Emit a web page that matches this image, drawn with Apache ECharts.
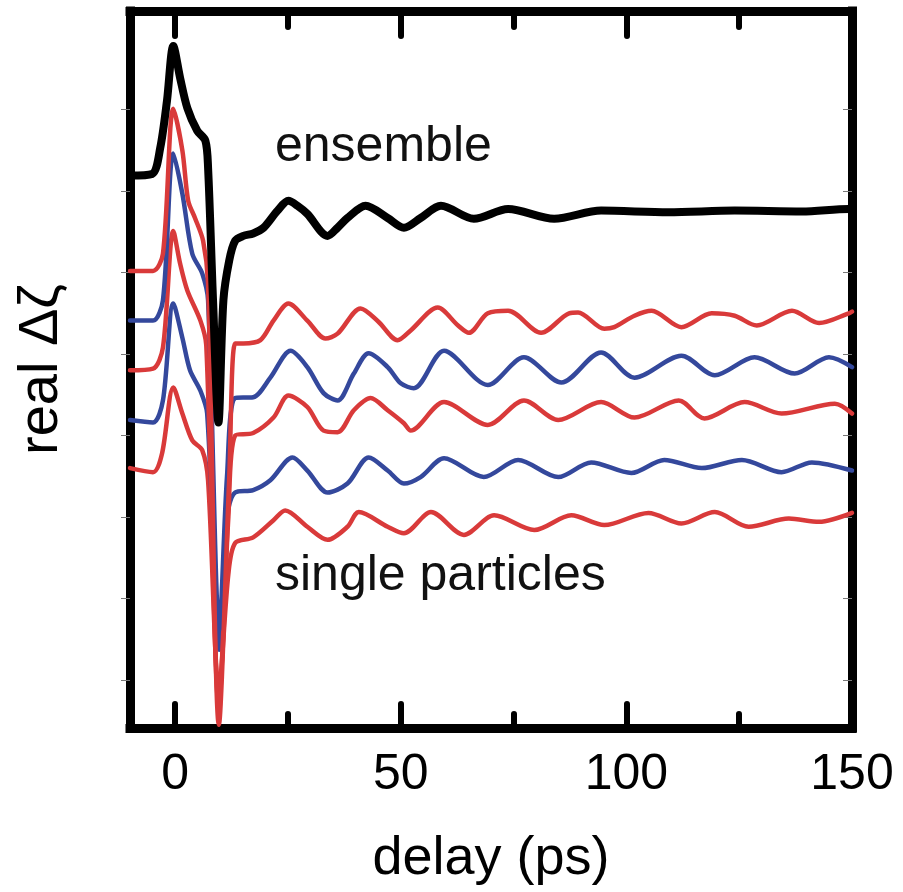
<!DOCTYPE html>
<html>
<head>
<meta charset="utf-8">
<script src="https://cdn.jsdelivr.net/npm/echarts@6/dist/echarts.min.js"></script>
<style>
html,body{margin:0;padding:0;background:#fff;}
#chart{width:903px;height:892px;}
</style>
</head>
<body>
<div id="chart"></div>
<script>
// ---- axis ticks ----
const xTickValues = [0, 50, 100, 150];
const xMinorValues = [25, 75, 125];
const yTickValues = [0, 1, 2, 3, 4, 5, 6, 7];

// ---- traces: [delay (ps), real Δζ (offset, arb. units)] ----
const ensemble = [
  [-10, 6.19], [-5.1, 6.21], [-3.3, 6.53], [-1.8, 7.11], [-0.4, 7.78], [1.1, 7.39], [2.7, 7.02],
  [4.9, 6.74], [6.7, 6.62], [7.3, 6.29], [8.4, 4.66], [9.6, 3.16], [10.7, 4.66], [12, 5.15],
  [13.3, 5.39], [15.1, 5.45], [17.3, 5.48], [19.6, 5.55], [22.7, 5.76], [25.1, 5.88], [27.1, 5.82],
  [29.3, 5.72], [33.8, 5.45], [36, 5.55], [38.2, 5.67], [42.2, 5.82], [47.1, 5.67], [50.7, 5.55],
  [54.4, 5.67], [58.9, 5.82], [66.2, 5.66], [73.8, 5.78], [84, 5.66], [94.4, 5.76], [109.3, 5.74],
  [124, 5.76], [138.9, 5.75], [149.3, 5.78], [150, 5.77]
];
const red1 = [
  [-10, 5.02], [-4.9, 5.02], [-2.7, 5.23], [-0.4, 7.01], [1.6, 6.50], [2.9, 5.88], [4.4, 5.67],
  [6.2, 5.39], [7.3, 4.87], [9.7, -0.55], [12, 2.5], [13.3, 4.13], [15.1, 4.13], [18.9, 4.17],
  [21.8, 4.41], [25.1, 4.62], [29.3, 4.41], [33.3, 4.19], [36, 4.25], [41.1, 4.56], [45, 4.40],
  [49.3, 4.17], [52.2, 4.29], [58.2, 4.57], [62.7, 4.35], [65.1, 4.26], [69.3, 4.50], [73.8, 4.53],
  [81.1, 4.26], [87.3, 4.50], [89.3, 4.51], [95.1, 4.31], [97.3, 4.33], [101.8, 4.47], [105.6, 4.53],
  [112.2, 4.33], [118.9, 4.50], [124, 4.47], [128.9, 4.35], [136.7, 4.53], [142.7, 4.38], [149.3, 4.50], [150, 4.52]
];
const blue1 = [
  [-10, 4.41], [-4.9, 4.41], [-2.7, 4.66], [-0.4, 6.46], [1.6, 5.97], [3.8, 5.23], [6, 4.99],
  [7.3, 4.66], [9.8, 0.61], [11.5, 2.5], [13.3, 3.46], [17.3, 3.47], [21.1, 3.71], [25.6, 4.04],
  [29.3, 3.84], [32.9, 3.52], [36, 3.43], [39.6, 3.76], [42.9, 4.01], [47.1, 3.84], [50, 3.64],
  [52.9, 3.58], [59.6, 4.04], [69.3, 3.62], [77.3, 3.96], [85.6, 3.65], [94.4, 4.02], [101.8, 3.71],
  [112.2, 3.98], [119.6, 3.74], [128.4, 3.96], [137.3, 3.76], [144.9, 3.96], [150, 3.84]
];
const red2 = [
  [-10, 3.80], [-4.9, 3.82], [-2.7, 4.08], [-0.4, 5.51], [1.1, 5.11], [2.7, 4.78], [5.6, 4.41],
  [6.9, 4.11], [9.7, -0.31], [11.8, 2.0], [13.3, 3.00], [17.3, 3.03], [21.8, 3.22], [25.1, 3.49],
  [29.3, 3.35], [32.9, 3.06], [36, 3.04], [39.6, 3.31], [43.3, 3.46], [47.1, 3.31], [50.7, 3.15],
  [52.2, 3.06], [59.6, 3.41], [69.3, 3.13], [77.3, 3.43], [84.9, 3.19], [94.4, 3.41], [101.8, 3.22],
  [111.6, 3.43], [117.3, 3.21], [126.2, 3.41], [134.4, 3.27], [146.2, 3.39], [150, 3.27]
];
const blue2 = [
  [-10, 3.19], [-4.9, 3.16], [-2.7, 3.43], [-0.4, 4.62], [1.6, 4.20], [3.3, 3.80], [5.6, 3.55],
  [7.1, 3.27], [9.8, 0.37], [11.5, 2.0], [13.3, 2.30], [17.3, 2.33], [21.1, 2.45], [26, 2.73],
  [29.3, 2.57], [33.8, 2.30], [38.2, 2.41], [42.9, 2.73], [47.1, 2.57], [50.7, 2.41], [54.4, 2.49],
  [59.6, 2.72], [68.4, 2.49], [76, 2.70], [84.9, 2.49], [92.2, 2.67], [101.1, 2.54], [108.4, 2.70],
  [116.7, 2.60], [125.6, 2.70], [134.4, 2.55], [141.1, 2.67], [150, 2.57]
];
const red3 = [
  [-10, 2.60], [-4.9, 2.55], [-2.9, 2.78], [-0.4, 3.59], [1.6, 3.27], [3.8, 2.94], [6, 2.82],
  [7.3, 2.45], [9.7, -0.12], [11.8, 1.3], [13.3, 1.68], [17.3, 1.75], [21.8, 1.96], [24.4, 2.08],
  [29.3, 1.88], [33.8, 1.72], [38.2, 1.88], [40.7, 2.06], [47.1, 1.88], [50.7, 1.80], [56.7, 2.06],
  [64, 1.78], [70.7, 2.02], [79.6, 1.84], [87.8, 2.02], [95.1, 1.90], [104.9, 2.05], [112.2, 1.92],
  [119.6, 2.06], [127.1, 1.88], [136, 1.98], [142.7, 1.94], [150, 2.05]
];

const RED = '#d93a3a';
const BLUE = '#34489c';
const FONT = "'Liberation Sans', Arial, sans-serif";
const FRAME = {color: '#000', width: 9, cap: 'square'};

const chart = echarts.init(document.getElementById('chart'), null, {renderer: 'canvas'});

function xAxisDef(pos, values, len, showLabel, showLine) {
  return {
    type: 'value', position: pos, min: -10, max: 150,
    axisLine: {show: showLine, onZero: false, lineStyle: FRAME},
    splitLine: {show: false},
    axisTick: {show: true, inside: true, length: len, customValues: values,
      lineStyle: {color: '#000', width: 6, cap: 'round'}},
    axisLabel: showLabel ? {show: true, customValues: values, margin: 22,
      fontSize: 50, color: '#000', fontFamily: FONT} : {show: false}
  };
}

function line(data, color, width, z) {
  return {
    type: 'line', data: data, showSymbol: false, symbol: 'none', smooth: 0.3, z: z,
    xAxisIndex: 0, yAxisIndex: 0,
    lineStyle: {color: color, width: width, join: 'round', cap: 'round'},
    emphasis: {disabled: true}
  };
}

const opt = {
  backgroundColor: '#fff',
  animation: false,
  grid: {left: 130, right: 51, top: 11, bottom: 164, outerBoundsMode: 'none'},
  xAxis: [
    Object.assign(xAxisDef('bottom', xTickValues, 24, true, true), {
      name: 'delay (ps)', nameLocation: 'middle', nameGap: 104,
      nameTextStyle: {fontSize: 54, color: '#000', fontFamily: FONT}
    }),
    xAxisDef('bottom', xMinorValues, 14, false, false),
    xAxisDef('top', xTickValues, 25, false, true),
    xAxisDef('top', xMinorValues, 16, false, false)
  ],
  yAxis: [
    {type: 'value', position: 'left', min: -0.59, max: 8.21,
      name: 'real \u0394\u03B6', nameLocation: 'middle', nameGap: 60, nameRotate: 90,
      nameTextStyle: {fontSize: 56, color: '#000', fontFamily: FONT},
      axisLine: {show: true, onZero: false, lineStyle: FRAME}, splitLine: {show: false},
      axisTick: {show: true, inside: false, length: 9, customValues: yTickValues,
        lineStyle: {color: '#777', width: 1}},
      axisLabel: {show: false}},
    {type: 'value', position: 'right', min: -0.59, max: 8.21,
      axisLine: {show: true, onZero: false, lineStyle: FRAME}, splitLine: {show: false},
      axisTick: {show: true, inside: true, length: 9, customValues: yTickValues,
        lineStyle: {color: '#777', width: 1}},
      axisLabel: {show: false}}
  ],
  graphic: [
    {type: 'text', left: 275, top: 122, z: 100,
      style: {text: 'ensemble', fontSize: 50, fill: '#111', fontFamily: FONT}},
    {type: 'text', left: 275, top: 551, z: 100,
      style: {text: 'single particles', fontSize: 50, fill: '#111', fontFamily: FONT}}
  ],
  series: [
    line(red3, RED, 4.5, 2),
    line(blue2, BLUE, 4.5, 2),
    line(red2, RED, 4.5, 2),
    line(blue1, BLUE, 4.5, 2),
    line(red1, RED, 4.5, 2),
    line(ensemble, '#000', 8, 3)
  ]
};
chart.setOption(opt);
</script>
</body>
</html>
